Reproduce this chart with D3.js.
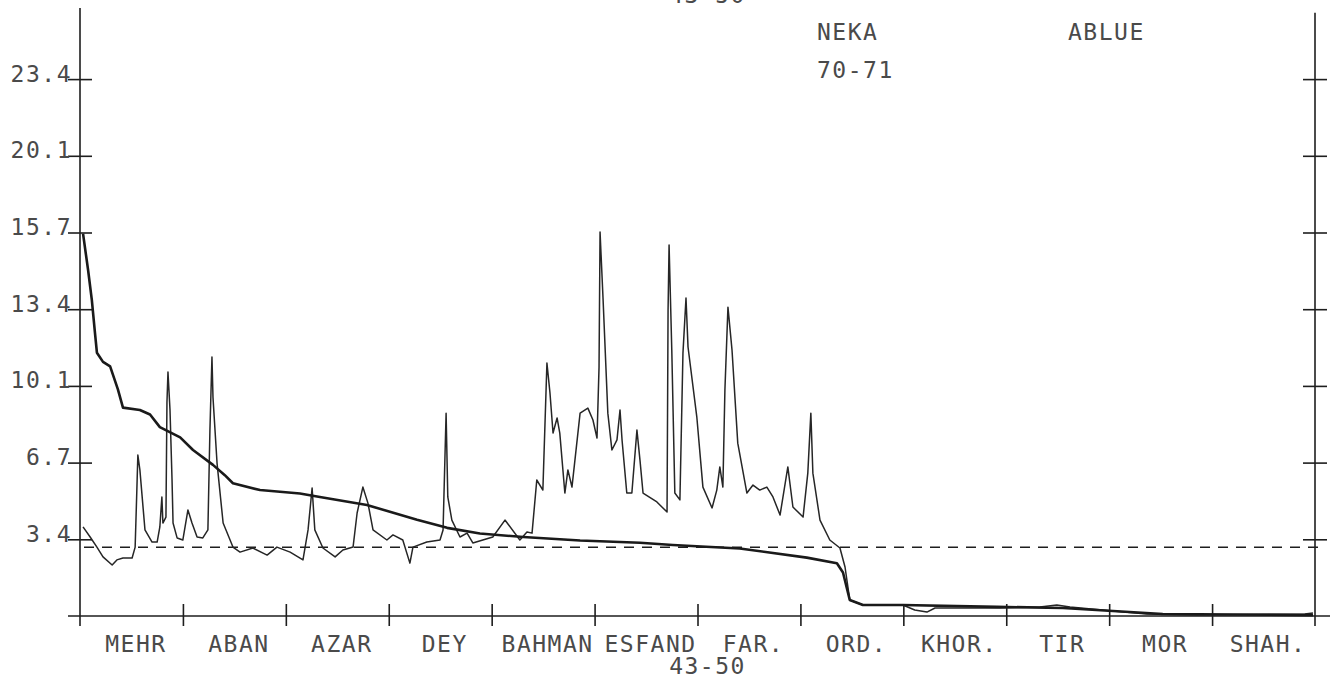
<!DOCTYPE html>
<html><head><meta charset="utf-8">
<script src="https://cdn.jsdelivr.net/npm/d3@7"></script>
<style>
html,body{margin:0;padding:0;background:#fff;}
svg{display:block;}
text{font-family:"DejaVu Sans Mono",monospace;fill:#4a4a4a;font-size:23px;letter-spacing:1.5px;}
</style></head><body>
<svg id="chart" width="1335" height="680"></svg>
<script>
// ---- data ----
const monthLabels = ["MEHR","ABAN","AZAR","DEY","BAHMAN","ESFAND","FAR.","ORD.","KHOR.","TIR","MOR","SHAH."];
const yTickValues = [3.35, 6.7, 10.05, 13.4, 16.75, 20.1, 23.45];
const yTickLabels = ["3.4", "6.7", "10.1", "13.4", "15.7", "20.1", "23.4"];
const thresholdValue = 3.0;
const titleLines = ["NEKA", "70-71"];
const stationName = "ABLUE";
const periodLabel = "43-50";

// daily flow 1970-71 (thin line), day of water year and value
const dailyDays = [0.9,3.0,5.0,6.8,9.5,10.9,12.7,15.4,16.3,16.8,17.1,17.7,19.2,21.3,22.8,23.6,24.2,24.5,25.4,25.7,26.0,26.6,27.2,27.5,28.7,30.4,31.9,33.1,34.6,36.3,37.8,38.4,39.0,39.3,40.5,42.3,45.2,47.3,51.1,55.3,58.2,62.1,65.9,67.4,68.6,69.4,71.8,75.4,77.7,80.7,81.9,83.6,85.1,86.6,90.7,92.5,95.4,97.5,98.4,102.5,106.4,107.3,108.2,108.7,109.9,112.3,114.4,116.1,122.0,125.6,130.0,132.1,133.6,135.0,136.8,138.0,138.9,139.8,141.0,141.8,143.3,144.2,145.4,147.8,150.1,151.6,152.8,153.4,153.7,154.6,156.0,157.2,158.7,159.6,160.2,161.6,163.1,164.6,165.5,166.4,170.5,173.5,173.8,174.1,174.9,175.8,177.3,178.2,179.1,179.7,182.3,184.1,186.8,188.2,189.1,190.0,190.6,191.5,192.7,194.4,197.1,198.9,200.9,203.0,204.8,206.9,209.2,210.7,213.7,215.1,216.0,216.6,218.7,221.6,224.6,226.1,227.5,231.4,243.2,246.7,250.3,252.7,260.9,271.9,283.7,288.7,292.6,305.3,315.3,330.1,362.0,364.4];
const dailyFlow = [3.89,3.45,3.01,2.58,2.23,2.45,2.53,2.53,3.01,5.50,7.03,6.38,3.76,3.23,3.23,3.89,5.20,4.06,4.32,9.34,10.66,9.00,5.94,4.06,3.41,3.32,4.63,4.06,3.45,3.41,3.76,8.12,11.31,9.56,6.68,4.06,3.01,2.79,2.97,2.66,3.01,2.79,2.45,3.76,5.59,3.76,2.97,2.58,2.88,3.01,4.50,5.63,4.93,3.76,3.32,3.54,3.32,2.31,3.01,3.23,3.32,3.76,8.86,5.20,4.19,3.45,3.62,3.19,3.45,4.19,3.32,3.67,3.62,5.94,5.50,11.05,9.74,7.99,8.65,7.99,5.37,6.38,5.63,8.86,9.08,8.56,7.77,10.87,16.77,13.80,8.86,7.25,7.69,9.00,7.69,5.37,5.37,8.12,6.81,5.37,4.98,4.54,13.36,16.20,11.62,5.37,5.07,11.48,13.89,11.75,8.69,5.63,4.72,5.50,6.51,5.63,9.87,13.49,11.62,7.55,5.37,5.72,5.50,5.63,5.20,4.41,6.51,4.76,4.32,6.24,8.86,6.24,4.19,3.32,2.97,2.14,0.70,0.48,0.48,0.26,0.17,0.35,0.35,0.35,0.39,0.48,0.39,0.22,0.09,0.04,0.09,0.13];

// flow duration curve 1943-50 (thick line)
const durationDays = [0.9,2.4,3.5,4.4,5.0,6.8,8.9,11.2,12.7,17.7,20.7,23.6,29.6,33.4,39.3,42.8,45.2,53.2,65.0,70.9,84.8,99.6,108.5,118.2,131.0,147.8,165.5,175.2,195.0,214.8,223.7,225.5,227.5,231.4,243.2,271.0,290.5,305.3,320.0,364.4];
const durationFlow = [16.7,15.1,13.8,12.4,11.5,11.1,10.9,9.9,9.1,9.0,8.8,8.25,7.8,7.25,6.6,6.15,5.8,5.5,5.35,5.2,4.85,4.2,3.85,3.6,3.45,3.3,3.2,3.1,2.95,2.55,2.3,1.9,0.7,0.48,0.48,0.4,0.35,0.22,0.09,0.04];

// ---- drawing ----
const svg = d3.select("#chart");
const ink = "#1e1e1e";
const x = d3.scaleLinear().domain([0, 365]).range([80, 1315]);
const y = d3.scaleLinear().domain([0, 26.8]).range([616, 2.4]);
const monthLen = 365 / 12;

// axis lines
svg.append("line").attr("x1", x(0)).attr("x2", x(0)).attr("y1", y(26.55)).attr("y2", y(0) + 10)
  .attr("stroke", ink).attr("stroke-width", 1.6);
svg.append("line").attr("x1", x(365)).attr("x2", x(365)).attr("y1", y(26.35)).attr("y2", y(0) + 10)
  .attr("stroke", ink).attr("stroke-width", 1.6);
svg.append("line").attr("x1", x(0) - 12).attr("x2", x(365) + 15).attr("y1", y(0)).attr("y2", y(0))
  .attr("stroke", ink).attr("stroke-width", 1.6);

// left axis
const gl = svg.append("g").attr("transform", `translate(${x(0)},0)`)
  .call(d3.axisLeft(y).tickValues(yTickValues).tickFormat((d, i) => yTickLabels[i]).tickSize(12));
gl.select(".domain").remove();
gl.selectAll(".tick line").attr("x1", -12).attr("x2", 12).attr("stroke", ink).attr("stroke-width", 1.6);
gl.selectAll(".tick text").attr("x", -8).attr("dy", 2).attr("fill", "#4a4a4a")
  .style("font-size", "23px").style("font-family", '"DejaVu Sans Mono", monospace');

// right axis
const gr = svg.append("g").attr("transform", `translate(${x(365)},0)`)
  .call(d3.axisRight(y).tickValues(yTickValues).tickFormat("").tickSize(12));
gr.select(".domain").remove();
gr.selectAll(".tick line").attr("x1", -12).attr("x2", 12).attr("stroke", ink).attr("stroke-width", 1.6);

// bottom axis month ticks
const gb = svg.append("g").attr("transform", `translate(0,${y(0)})`)
  .call(d3.axisBottom(x).tickValues(d3.range(1, 12).map(i => i * monthLen)).tickFormat("").tickSize(10));
gb.select(".domain").remove();
gb.selectAll(".tick line").attr("y1", -12).attr("y2", 10).attr("stroke", ink).attr("stroke-width", 1.6);

// month labels
const gm = svg.append("g").attr("transform", `translate(0,${y(0)})`)
  .call(d3.axisBottom(x).tickValues(d3.range(12).map(i => (i + 0.5) * monthLen))
    .tickFormat((d, i) => monthLabels[i]).tickSize(0));
gm.select(".domain").remove();
gm.selectAll(".tick text").attr("y", 36).attr("dy", 0).attr("dx", 4).attr("fill", "#4a4a4a")
  .style("font-size", "23px").style("font-family", '"DejaVu Sans Mono", monospace');

// threshold dashed line
svg.append("line").attr("x1", x(0) + 4).attr("x2", x(365) + 4)
  .attr("y1", y(thresholdValue)).attr("y2", y(thresholdValue))
  .attr("stroke", ink).attr("stroke-width", 1.5).attr("stroke-dasharray", "10,8");

// series
const line = d3.line().x(d => x(d[0])).y(d => y(d[1]));
svg.append("path").datum(dailyDays.map((d, i) => [d, dailyFlow[i]]))
  .attr("d", line).attr("fill", "none").attr("stroke", "#262626").attr("stroke-width", 1.5)
  .attr("stroke-linejoin", "round");
svg.append("path").datum(durationDays.map((d, i) => [d, durationFlow[i]]))
  .attr("d", line).attr("fill", "none").attr("stroke", "#1a1a1a").attr("stroke-width", 2.6)
  .attr("stroke-linejoin", "round");

// annotations
svg.append("text").attr("x", x(6 * monthLen) + 10).attr("y", 674).attr("text-anchor", "middle").text(periodLabel);
svg.append("text").attr("x", x(6 * monthLen) + 10).attr("y", 3).attr("text-anchor", "middle").text(periodLabel);
svg.append("text").attr("x", 817).attr("y", 40).text(titleLines[0]);
svg.append("text").attr("x", 817).attr("y", 78).text(titleLines[1]);
svg.append("text").attr("x", 1068).attr("y", 40).text(stationName);
</script>
</body></html>
